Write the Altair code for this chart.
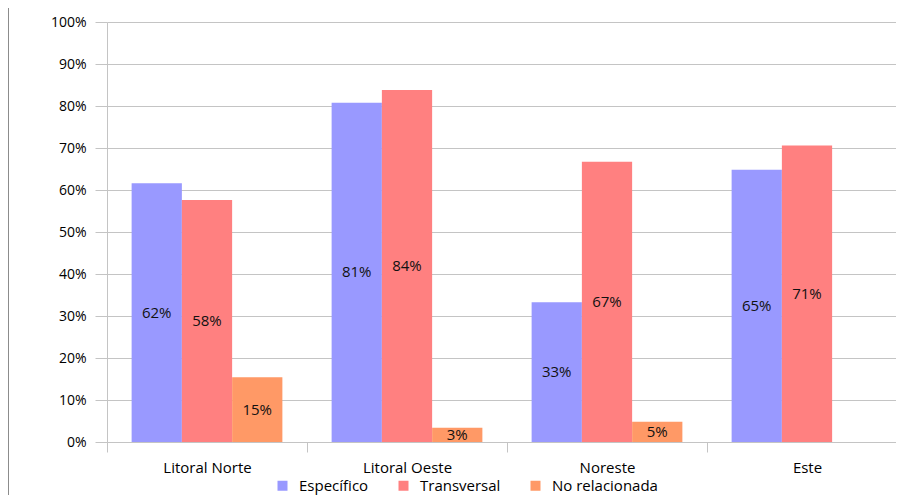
import altair as alt
import pandas as pd

regions = ["Litoral Norte", "Litoral Oeste", "Noreste", "Este"]
series = ["Específico", "Transversal", "No relacionada"]
especifico = [61.6, 80.8, 33.3, 64.8]
transversal = [57.6, 83.8, 66.7, 70.6]
no_relacionada = [15.4, 3.4, 4.8, 0.0]
colors = ["#9999FF", "#FF8080", "#FF9966"]
y_ticks = list(range(0, 101, 10))

rows = []
for s, vals in zip(series, [especifico, transversal, no_relacionada]):
    for r, v in zip(regions, vals):
        rows.append({"region": r, "serie": s, "valor": v})
df = pd.DataFrame(rows)

FONT = "Open Sans"
GRID = "#c4c4c4"

x_enc = alt.X(
    "region:N",
    sort=regions,
    title=None,
    scale=alt.Scale(range=[0, 800], paddingInner=0, paddingOuter=0),
    axis=alt.Axis(
        tickBand="extent",
        tickSize=10,
        tickColor=GRID,
        domainColor=GRID,
        labelAngle=0,
        labelPadding=8,
        labelFont=FONT,
        labelFontSize=15,
        labelColor="#000000",
        grid=False,
    ),
)
xoff_enc = alt.XOffset(
    "serie:N", sort=series, scale=alt.Scale(domain=series, paddingInner=0, paddingOuter=0.49)
)

y_enc = alt.Y(
    "valor:Q",
    title=None,
    scale=alt.Scale(domain=[0, 100], nice=False),
    axis=alt.Axis(
        values=y_ticks,
        labelExpr="datum.value + '%'",
        tickSize=12,
        tickColor=GRID,
        domainColor=GRID,
        gridColor=GRID,
        labelPadding=9,
        labelFont=FONT,
        labelFontSize=14,
        labelColor="#000000",
    ),
)

bars = alt.Chart(df).mark_bar().encode(
    x=x_enc,
    xOffset=xoff_enc,
    y=y_enc,
    color=alt.Color(
        "serie:N",
        sort=series,
        scale=alt.Scale(domain=series, range=colors),
        legend=alt.Legend(
            title=None,
            orient="none",
            legendX=168,
            legendY=456,
            direction="horizontal",
            symbolType="square",
            symbolSize=100,
            symbolStrokeWidth=0,
            labelFont=FONT,
            labelFontSize=15,
            labelColor="#000000",
            labelOffset=9,
            columnPadding=27,
        ),
    ),
)

labels = (
    alt.Chart(df)
    .transform_filter("datum.valor > 0")
    .transform_calculate(mid="datum.valor / 2", etiqueta="format(datum.valor, '.0f') + '%'")
    .mark_text(font=FONT, fontSize=15, color="#111111", baseline="middle", align="center")
    .encode(
        x=alt.X("region:N", sort=regions),
        xOffset=alt.XOffset("serie:N", sort=series),
        y=alt.Y("mid:Q"),
        text="etiqueta:N",
    )
)

border = alt.Chart(pd.DataFrame({"a": [0]})).mark_rule(color="#8c8c8c", strokeWidth=2).encode(
    x=alt.value(-99), y=alt.value(-14), y2=alt.value(473)
)

chart = (
    alt.layer(bars, labels, border)
    .properties(
        width=789,
        height=420,
        autosize=alt.AutoSizeParams(type="none"),
        padding={"left": 99, "top": 14, "right": 0, "bottom": 53},
    )
    .configure_view(stroke=None)
)

chart.save("out.html", embed_options={"renderer": "svg", "actions": False})
